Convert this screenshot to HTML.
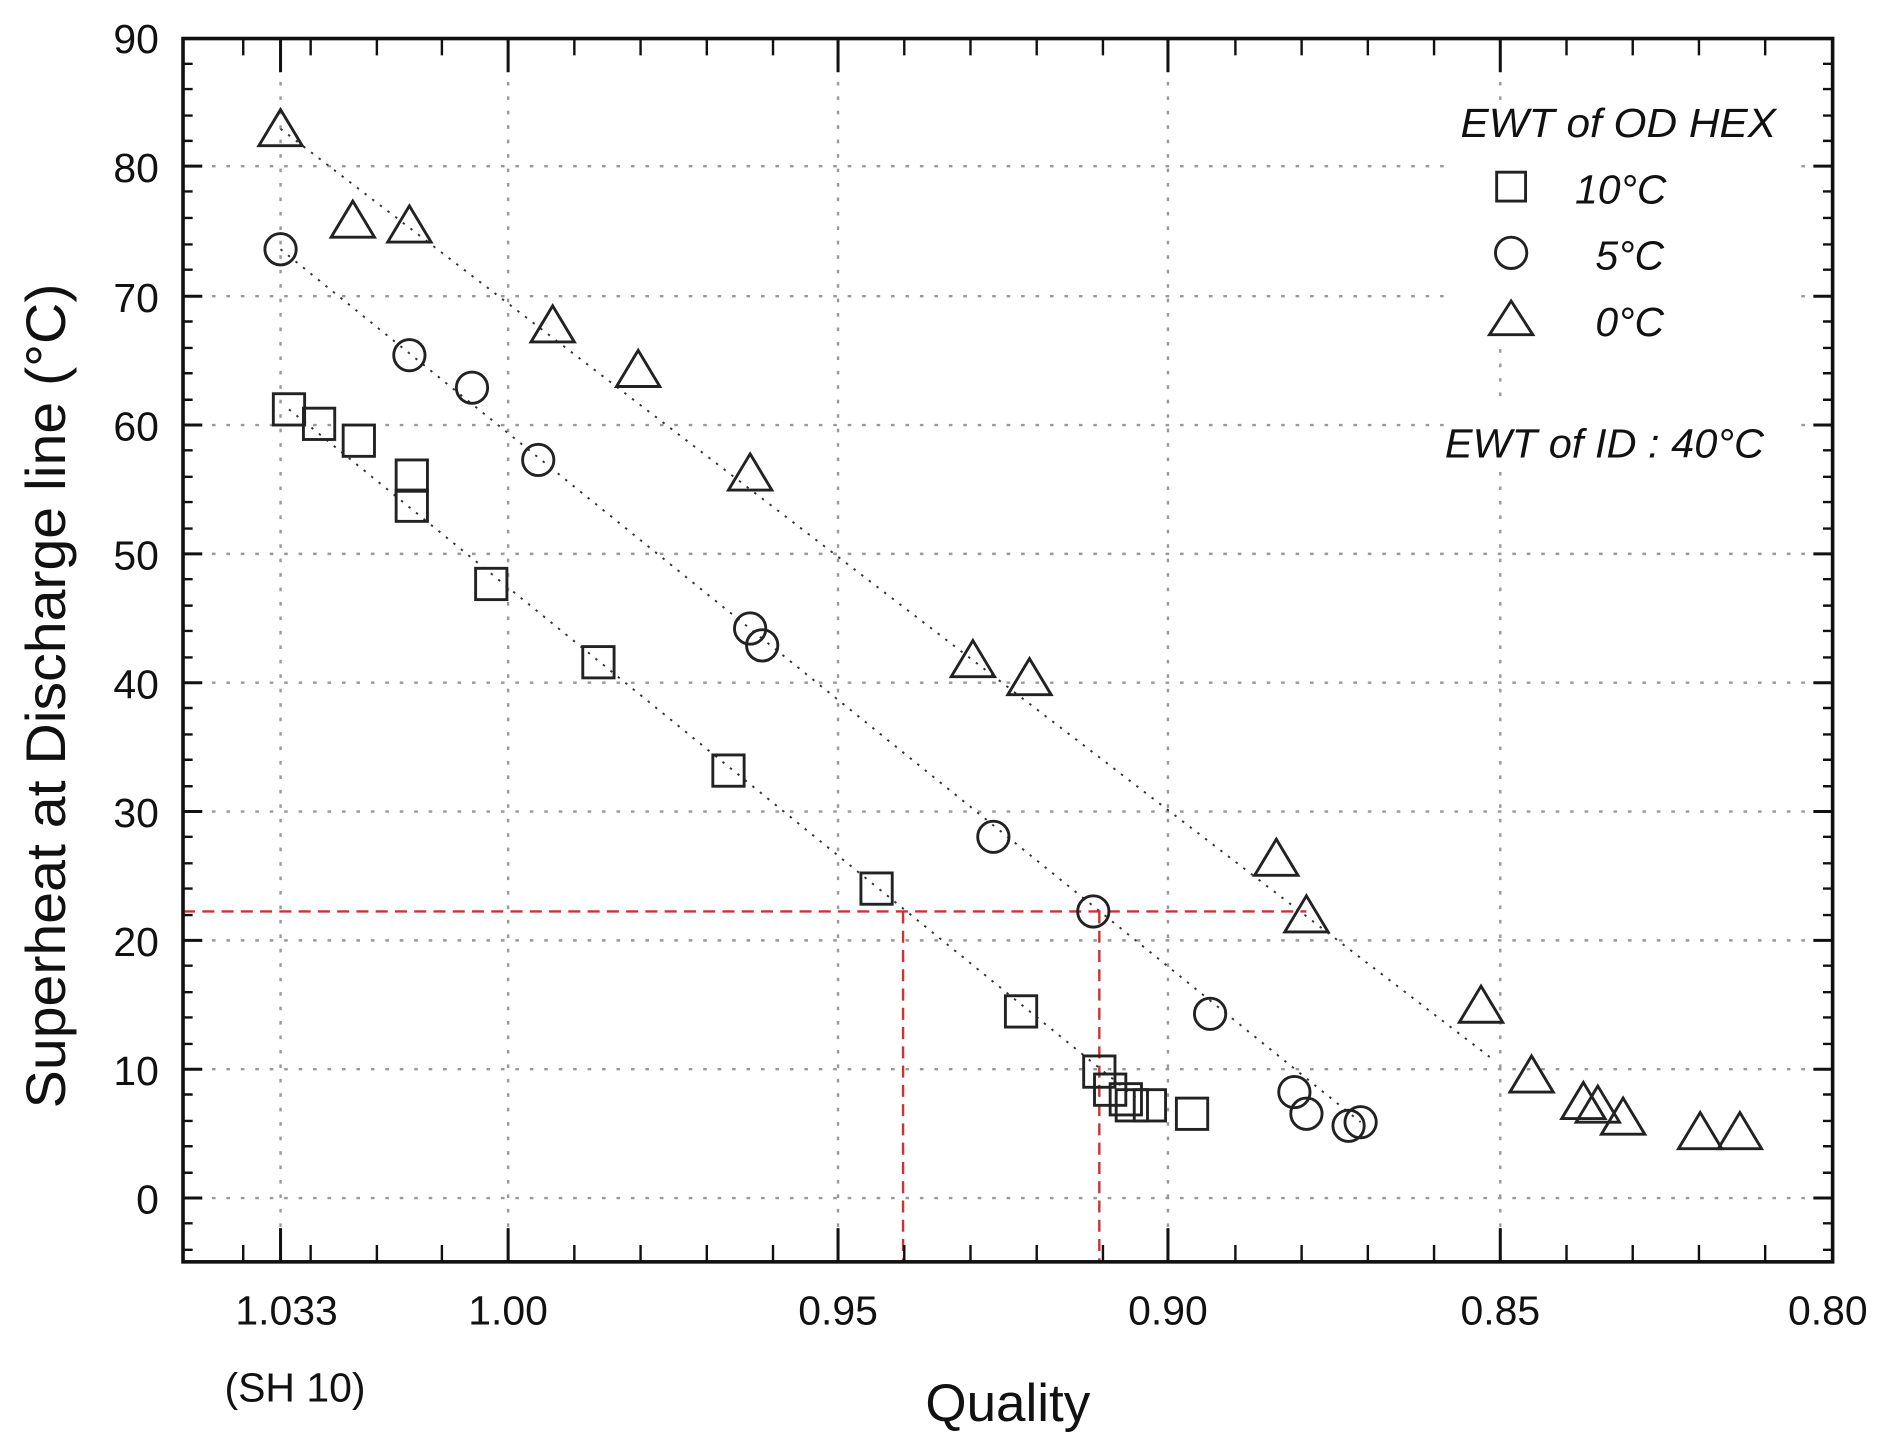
<!DOCTYPE html>
<html><head><meta charset="utf-8"><style>
html,body{margin:0;padding:0;background:#fff;}
svg{display:block;}
text{font-family:"Liberation Sans",sans-serif;fill:#111;}
</style></head><body>
<svg width="1888" height="1448" viewBox="0 0 1568 1202.6" preserveAspectRatio="none" xmlns="http://www.w3.org/2000/svg">
<g stroke="#999" stroke-width="2" stroke-dasharray="3,9">
<line x1="233" y1="32" x2="233" y2="1048"/>
<line x1="422" y1="32" x2="422" y2="1048"/>
<line x1="696" y1="32" x2="696" y2="1048"/>
<line x1="970" y1="32" x2="970" y2="1048"/>
<line x1="1246" y1="32" x2="1246" y2="1048"/>
<line x1="152" y1="138" x2="1522" y2="138"/>
<line x1="152" y1="246" x2="1522" y2="246"/>
<line x1="152" y1="353" x2="1522" y2="353"/>
<line x1="152" y1="460" x2="1522" y2="460"/>
<line x1="152" y1="567" x2="1522" y2="567"/>
<line x1="152" y1="674" x2="1522" y2="674"/>
<line x1="152" y1="781" x2="1522" y2="781"/>
<line x1="152" y1="888" x2="1522" y2="888"/>
<line x1="152" y1="995" x2="1522" y2="995"/>
</g>
<rect x="1200" y="85" width="290" height="300" fill="#fff"/>
<line x1="1246" y1="290" x2="1246" y2="335" stroke="#999" stroke-width="2" stroke-dasharray="3,9"/>
<g stroke="#333" stroke-width="1.6" stroke-dasharray="2,6" fill="none">
<line x1="233" y1="107" x2="1240" y2="880"/>
<line x1="233" y1="207" x2="1130" y2="932"/>
<line x1="240" y1="340" x2="945" y2="913"/>
</g>
<g stroke="#c33" stroke-width="2" stroke-dasharray="10,6" fill="none">
<line x1="152" y1="757" x2="1085" y2="757"/>
<line x1="750" y1="757" x2="750" y2="1048"/>
<line x1="913" y1="757" x2="913" y2="1048"/>
</g>
<g fill="none" stroke="#222" stroke-width="2.4">
<path d="M0,-16 L18,14 L-18,14 Z" transform="translate(233,107)"/>
<path d="M0,-16 L18,14 L-18,14 Z" transform="translate(293,183)"/>
<path d="M0,-16 L18,14 L-18,14 Z" transform="translate(340,187)"/>
<path d="M0,-16 L18,14 L-18,14 Z" transform="translate(459,270)"/>
<path d="M0,-16 L18,14 L-18,14 Z" transform="translate(530,307)"/>
<path d="M0,-16 L18,14 L-18,14 Z" transform="translate(623,393)"/>
<path d="M0,-16 L18,14 L-18,14 Z" transform="translate(808,548)"/>
<path d="M0,-16 L18,14 L-18,14 Z" transform="translate(855,563)"/>
<path d="M0,-16 L18,14 L-18,14 Z" transform="translate(1060,713)"/>
<path d="M0,-16 L18,14 L-18,14 Z" transform="translate(1085,760)"/>
<path d="M0,-16 L18,14 L-18,14 Z" transform="translate(1230,835)"/>
<path d="M0,-16 L18,14 L-18,14 Z" transform="translate(1272,893)"/>
<path d="M0,-16 L18,14 L-18,14 Z" transform="translate(1315,915)"/>
<path d="M0,-16 L18,14 L-18,14 Z" transform="translate(1327,918)"/>
<path d="M0,-16 L18,14 L-18,14 Z" transform="translate(1348,928)"/>
<path d="M0,-16 L18,14 L-18,14 Z" transform="translate(1412,940)"/>
<path d="M0,-16 L18,14 L-18,14 Z" transform="translate(1445,940)"/>
<circle cx="233" cy="207" r="13"/>
<circle cx="340" cy="295" r="13"/>
<circle cx="392" cy="322" r="13"/>
<circle cx="447" cy="382" r="13"/>
<circle cx="623" cy="522" r="13"/>
<circle cx="633" cy="536" r="13"/>
<circle cx="825" cy="695" r="13"/>
<circle cx="908" cy="757" r="13"/>
<circle cx="1005" cy="842" r="13"/>
<circle cx="1075" cy="907" r="13"/>
<circle cx="1085" cy="925" r="13"/>
<circle cx="1120" cy="935" r="13"/>
<circle cx="1130" cy="932" r="13"/>
<rect x="227" y="327" width="26" height="26"/>
<rect x="252" y="339" width="26" height="26"/>
<rect x="285" y="353" width="26" height="26"/>
<rect x="329" y="382" width="26" height="26"/>
<rect x="329" y="407" width="26" height="26"/>
<rect x="395" y="472" width="26" height="26"/>
<rect x="484" y="537" width="26" height="26"/>
<rect x="592" y="627" width="26" height="26"/>
<rect x="715" y="725" width="26" height="26"/>
<rect x="835" y="827" width="26" height="26"/>
<rect x="900" y="877" width="26" height="26"/>
<rect x="909" y="892" width="26" height="26"/>
<rect x="922" y="900" width="26" height="26"/>
<rect x="927" y="905" width="26" height="26"/>
<rect x="942" y="905" width="26" height="26"/>
<rect x="977" y="912" width="26" height="26"/>
<rect x="1243" y="143" width="24" height="24"/>
<circle cx="1255" cy="210" r="13"/>
<path d="M0,-15 L18,13 L-18,13 Z" transform="translate(1255,265)"/>
</g>
<g font-style="italic" font-size="34">
<text x="1213" y="114" textLength="262" lengthAdjust="spacingAndGlyphs">EWT of OD HEX</text>
<text x="1308" y="169">10°C</text>
<text x="1325" y="224">5°C</text>
<text x="1325" y="279">0°C</text>
<text x="1200" y="380" textLength="265" lengthAdjust="spacingAndGlyphs">EWT of ID : 40°C</text>
</g>
<rect x="152" y="32" width="1370" height="1016" fill="none" stroke="#111" stroke-width="3"/>
<g stroke="#111" stroke-width="2.5">
<path d="M152,138h16M152,246h16M152,353h16M152,460h16M152,567h16M152,674h16M152,781h16M152,888h16M152,995h16M1522,138h-16M1522,246h-16M1522,353h-16M1522,460h-16M1522,567h-16M1522,674h-16M1522,781h-16M1522,888h-16M1522,995h-16"/>
<path d="M233,1048v-28M422,1048v-28M696,1048v-28M970,1048v-28M1246,1048v-28M233,32v28M422,32v28M696,32v28M970,32v28M1246,32v28"/>
</g>
<g stroke="#111" stroke-width="2">
<path d="M152,53h8M152,74h8M152,96h8M152,117h8M152,159h8M152,181h8M152,203h8M152,224h8M152,267h8M152,289h8M152,310h8M152,332h8M152,374h8M152,396h8M152,417h8M152,439h8M152,481h8M152,503h8M152,524h8M152,546h8M152,588h8M152,610h8M152,631h8M152,653h8M152,695h8M152,717h8M152,738h8M152,760h8M152,802h8M152,824h8M152,845h8M152,867h8M152,909h8M152,931h8M152,952h8M152,974h8M152,1016h8M152,1038h8"/>
<path d="M1522,53h-8M1522,74h-8M1522,96h-8M1522,117h-8M1522,159h-8M1522,181h-8M1522,203h-8M1522,224h-8M1522,267h-8M1522,289h-8M1522,310h-8M1522,332h-8M1522,374h-8M1522,396h-8M1522,417h-8M1522,439h-8M1522,481h-8M1522,503h-8M1522,524h-8M1522,546h-8M1522,588h-8M1522,610h-8M1522,631h-8M1522,653h-8M1522,695h-8M1522,717h-8M1522,738h-8M1522,760h-8M1522,802h-8M1522,824h-8M1522,845h-8M1522,867h-8M1522,909h-8M1522,931h-8M1522,952h-8M1522,974h-8M1522,1016h-8M1522,1038h-8"/>
<path d="M202,1048v-14M258,1048v-14M313,1048v-14M367,1048v-14M477,1048v-14M532,1048v-14M587,1048v-14M642,1048v-14M751,1048v-14M806,1048v-14M861,1048v-14M916,1048v-14M1026,1048v-14M1081,1048v-14M1136,1048v-14M1191,1048v-14M1301,1048v-14M1356,1048v-14M1411,1048v-14M1466,1048v-14"/>
<path d="M202,32v14M258,32v14M313,32v14M367,32v14M477,32v14M532,32v14M587,32v14M642,32v14M751,32v14M806,32v14M861,32v14M916,32v14M1026,32v14M1081,32v14M1136,32v14M1191,32v14M1301,32v14M1356,32v14M1411,32v14M1466,32v14"/>
</g>
<g font-size="34" text-anchor="end">
<text x="132" y="44">90</text>
<text x="132" y="151">80</text>
<text x="132" y="259">70</text>
<text x="132" y="366">60</text>
<text x="132" y="473">50</text>
<text x="132" y="580">40</text>
<text x="132" y="687">30</text>
<text x="132" y="794">20</text>
<text x="132" y="901">10</text>
<text x="132" y="1008">0</text>
</g>
<g font-size="34" text-anchor="middle">
<text x="238" y="1100">1.033</text>
<text x="422" y="1100">1.00</text>
<text x="696" y="1100">0.95</text>
<text x="970" y="1100">0.90</text>
<text x="1246" y="1100">0.85</text>
<text x="1518" y="1100">0.80</text>
<text x="245" y="1164">(SH 10)</text>
<text x="837" y="1180" font-size="44">Quality</text>
<text transform="translate(54,578) rotate(-90)" font-size="46" textLength="685" lengthAdjust="spacingAndGlyphs">Superheat at Discharge line (°C)</text>
</g>
</svg>
</body></html>
